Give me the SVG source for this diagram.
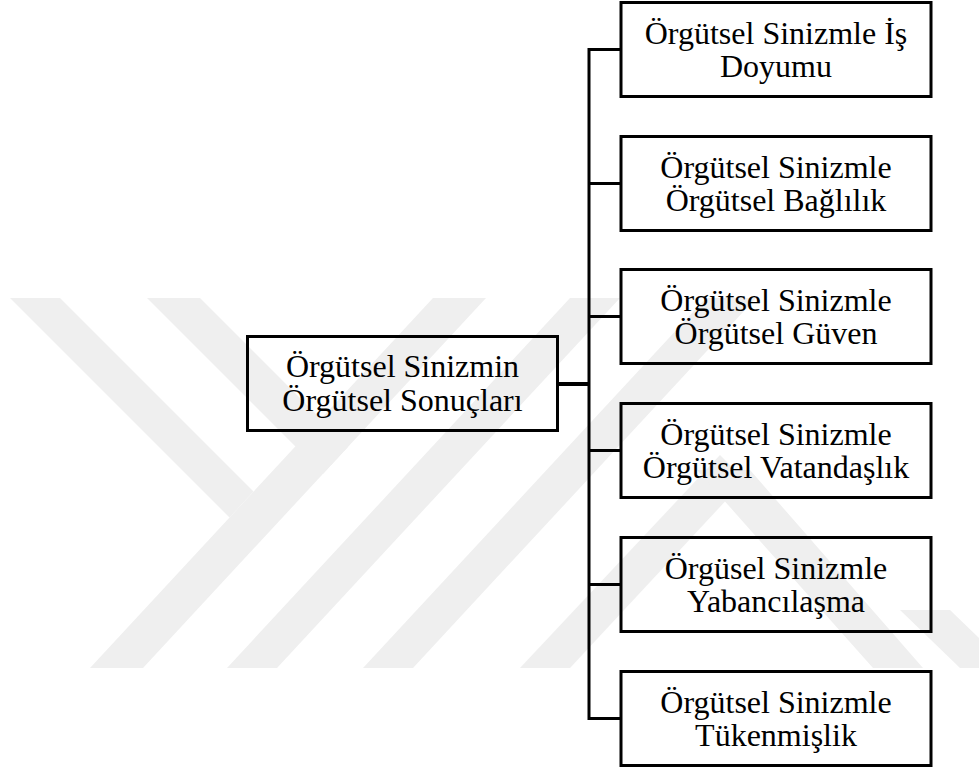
<svg xmlns="http://www.w3.org/2000/svg" width="979" height="769" viewBox="0 0 979 769">
<style>
.wm{fill:#efefef;stroke:none}
.box{fill:none;stroke:#000;stroke-width:3}
.lbl{font-family:'Liberation Serif','DejaVu Serif',serif;font-size:32px;fill:#000;text-anchor:middle}
.con{fill:none;stroke:#000;stroke-width:3}
</style>
<rect width="979" height="769" fill="#fff"/>
<g id="watermark">
<polygon class="wm" points="10,298 60,298 253.5,491.5 229.5,517.5"/>
<polygon class="wm" points="147,298 200,298 348.4,446.4 322.9,473.9"/>
<polygon class="wm" points="90,668 143,668 486,298 433,298"/>
<polygon class="wm" points="227,668 277,668 620,298 570,298"/>
<polygon class="wm" points="363,668 413,668 756,298 706,298"/>
<polygon class="wm" points="520,668 570,668 745,480 720,455"/>
<polygon class="wm" points="697,470 750,470 923,668 873,668"/>
<polygon class="wm" points="900,610 950,610 1010,668 960,668"/>
</g>
<g id="connectors">
<line class="con" x1="558" y1="384" x2="589" y2="384" style="stroke-width:4"/>
<polyline class="con" points="620,49.5 589,49.5 589,718.5 620,718.5"/>
<line class="con" x1="589" y1="183.5" x2="620" y2="183.5"/>
<line class="con" x1="589" y1="316.5" x2="620" y2="316.5"/>
<line class="con" x1="589" y1="450.5" x2="620" y2="450.5"/>
<line class="con" x1="589" y1="584.5" x2="620" y2="584.5"/>
</g>
<g id="root">
<rect class="box" x="247.5" y="336.5" width="310" height="94"/>
<text class="lbl" x="402.5" y="377">Örgütsel Sinizmin</text>
<text class="lbl" x="402.5" y="411">Örgütsel Sonuçları</text>
</g>
<g id="n1">
<rect class="box" x="621" y="2.5" width="310" height="94"/>
<text class="lbl" x="776" y="43.5">Örgütsel Sinizmle İş</text>
<text class="lbl" x="776" y="77">Doyumu</text>
</g>
<g id="n2">
<rect class="box" x="621" y="136.5" width="310" height="94"/>
<text class="lbl" x="776" y="177.5">Örgütsel Sinizmle</text>
<text class="lbl" x="776" y="211">Örgütsel Bağlılık</text>
</g>
<g id="n3">
<rect class="box" x="621" y="269.5" width="310" height="94"/>
<text class="lbl" x="776" y="310.5">Örgütsel Sinizmle</text>
<text class="lbl" x="776" y="344">Örgütsel Güven</text>
</g>
<g id="n4">
<rect class="box" x="621" y="403.5" width="310" height="94"/>
<text class="lbl" x="776" y="444.5">Örgütsel Sinizmle</text>
<text class="lbl" x="776" y="478">Örgütsel Vatandaşlık</text>
</g>
<g id="n5">
<rect class="box" x="621" y="537.5" width="310" height="94"/>
<text class="lbl" x="776" y="578.5">Örgüsel Sinizmle</text>
<text class="lbl" x="776" y="612">Yabancılaşma</text>
</g>
<g id="n6">
<rect class="box" x="621" y="671.5" width="310" height="94"/>
<text class="lbl" x="776" y="712.5">Örgütsel Sinizmle</text>
<text class="lbl" x="776" y="746">Tükenmişlik</text>
</g>
</svg>
